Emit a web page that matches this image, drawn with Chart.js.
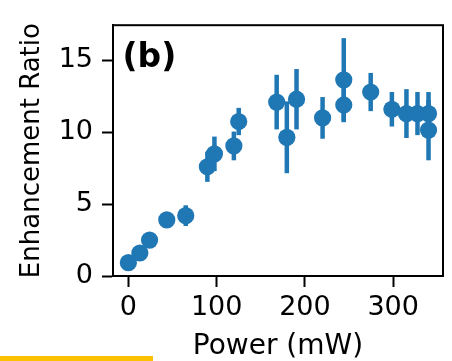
<!DOCTYPE html>
<html>
<head>
<meta charset="utf-8">
<script src="https://cdn.jsdelivr.net/npm/chart.js@4/dist/chart.umd.min.js"></script>
<style>
  html, body { margin: 0; padding: 0; background: #fff; }
  #wrap { position: relative; width: 452px; height: 361px; }
  #bar { position: absolute; left: 0; top: 356px; width: 153px; height: 5px; background: #fbc102; }
</style>
</head>
<body>
<div id="wrap">
  <canvas id="c" width="452" height="361"></canvas>
  <div id="bar"></div>
</div>
<script>
const powers = [0, 13, 24, 43.5, 65, 89.5, 97.5, 119.5, 125, 168, 179.5, 190.5, 220, 244, 244, 274.5, 298.5, 315, 327.5, 340, 340];
const ratios = [0.93, 1.6, 2.5, 3.9, 4.2, 7.6, 8.5, 9.05, 10.75, 12.1, 9.65, 12.3, 11.0, 13.65, 11.9, 12.8, 11.6, 11.3, 11.3, 11.3, 10.15];
const errors = [0, 0, 0, 0, 0.72, 1.05, 1.2, 1.0, 0.95, 1.9, 2.5, 2.1, 1.45, 2.9, 1.2, 1.33, 1.2, 1.7, 1.5, 1.5, 2.1];
const xTicks = [0, 100, 200, 300];
const yTicks = [0, 5, 10, 15];
const panelLabel = '(b)';
const xTitle = 'Power (mW)';
const yTitle = 'Enhancement Ratio';

const blue = '#1f77b4';
const FONT = "'DejaVu Sans', sans-serif";

const errorBars = {
  id: 'errorBars',
  beforeDatasetsDraw(chart) {
    const ctx = chart.ctx;
    const xs = chart.scales.x, ys = chart.scales.y;
    ctx.save();
    ctx.strokeStyle = blue;
    ctx.lineWidth = 4.5;
    ctx.lineCap = 'butt';
    powers.forEach((p, i) => {
      if (!errors[i]) return;
      const px = xs.getPixelForValue(p);
      ctx.beginPath();
      ctx.moveTo(px, ys.getPixelForValue(ratios[i] - errors[i]));
      ctx.lineTo(px, ys.getPixelForValue(ratios[i] + errors[i]));
      ctx.stroke();
    });
    ctx.restore();
  }
};

const frame = {
  id: 'frame',
  afterDraw(chart) {
    const { ctx, chartArea: a } = chart;
    ctx.save();
    ctx.strokeStyle = '#000';
    ctx.lineWidth = 2;
    ctx.strokeRect(a.left, a.top, a.right - a.left, a.bottom - a.top);
    ctx.fillStyle = '#000';
    ctx.font = "bold 33px 'DejaVu Sans', sans-serif";
    ctx.textBaseline = 'alphabetic';
    ctx.textAlign = 'left';
    ctx.fillText(panelLabel, a.left + 9.5, a.top + 41.5);
    ctx.restore();
  }
};

new Chart(document.getElementById('c'), {
  type: 'scatter',
  data: {
    datasets: [{
      data: powers.map((p, i) => ({ x: p, y: ratios[i] })),
      backgroundColor: blue,
      borderWidth: 0,
      pointRadius: 8.6,
      pointHoverRadius: 8.6
    }]
  },
  options: {
    responsive: false,
    animation: false,
    layout: { padding: { top: 14, right: 9, left: 0, bottom: 0 } },
    plugins: { legend: { display: false }, tooltip: { enabled: false } },
    scales: {
      x: {
        type: 'linear',
        min: -17.4, max: 356.4,
        afterBuildTicks(s) { s.ticks = xTicks.map(v => ({ value: v })); },
        afterFit(s) { s.height = 85; },
        border: { display: true, color: '#000', width: 2 },
        grid: { drawOnChartArea: false, drawTicks: true, tickLength: 11, tickWidth: 2, tickColor: '#000' },
        ticks: { color: '#000', font: { family: FONT, size: 27 }, padding: 5, maxRotation: 0 },
        title: { display: true, text: xTitle, color: '#000', font: { family: FONT, size: 28, lineHeight: 1.0 }, padding: { top: 0, bottom: 0 } }
      },
      y: {
        type: 'linear',
        min: 0, max: 17.45,
        afterBuildTicks(s) { s.ticks = yTicks.map(v => ({ value: v })); },
        afterFit(s) { s.width = 113; },
        border: { display: true, color: '#000', width: 2 },
        grid: { drawOnChartArea: false, drawTicks: true, tickLength: 11, tickWidth: 2, tickColor: '#000' },
        ticks: { color: '#000', font: { family: FONT, size: 27 }, padding: 9 },
        title: { display: true, text: yTitle, color: '#000', font: { family: FONT, size: 26 }, padding: { top: 17, bottom: 0 } }
      }
    }
  },
  plugins: [errorBars, frame]
});
</script>
</body>
</html>
